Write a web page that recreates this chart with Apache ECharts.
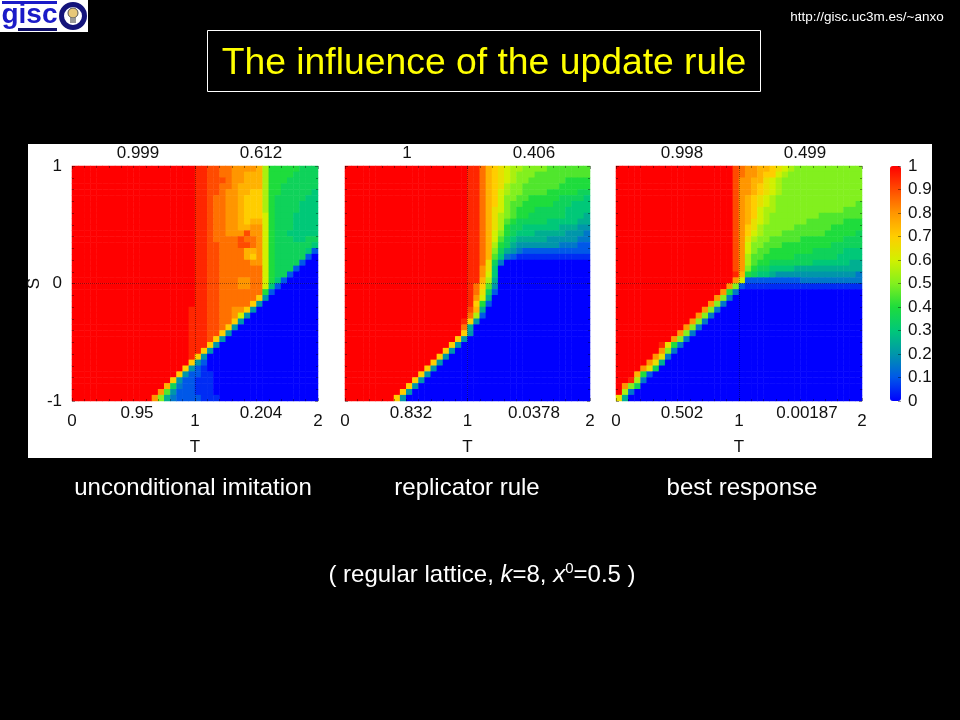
<!DOCTYPE html>
<html><head><meta charset="utf-8">
<style>html,body{margin:0;padding:0;background:#000}#c{width:960px;height:720px}</style>
<script src="https://cdn.jsdelivr.net/npm/echarts@6/dist/echarts.min.js"></script>
</head><body><div id="c"></div>
<script>
// Each row is one line of cells, top (S=1) to bottom (S=-1), left (T=0) to right (T=2).
// Letter a..u = fraction of cooperators 0.00..1.00 in steps of 0.05.
const panelA = [
"uuuuuuuuuu uuuuuuuuuu ttssrrqqqq pliiiiihhh",
"uuuuuuuuuu uuuuuuuuuu ttssrrqqpp pliiiihhhh",
"uuuuuuuuuu uuuuuuuuuu ttsssrqqpp pliiihhhhh",
"uuuuuuuuuu uuuuuuuuuu ttssrrqppp pliihhhhhh",
"uuuuuuuuuu uuuuuuuuuu ttssrqqppo oliihhhhhg",
"uuuuuuuuuu uuuuuuuuuu ttsrrqqpoo olihhhhhgg",
"uuuuuuuuuu uuuuuuuuuu ttsrrqqpoo olihhhhggg",
"uuuuuuuuuu uuuuuuuuuu ttsrrqqpoo olihhhhggg",
"uuuuuuuuuu uuuuuuuuuu ttsrrqqpoo omihhhgggg",
"uuuuuuuuuu uuuuuuuuuu ttsrrqqpop pmihhhgggg",
"uuuuuuuuuu uuuuuuuuuu ttsrrqqppq qmihhhgggg",
"uuuuuuuuuu uuuuuuuuuu ttsrrqqqsq qmihhggggg",
"uuuuuuuuuu uuuuuuuuuu ttsrrrrsrr qmihhhgghh",
"uuuuuuuuuu uuuuuuuuuu ttssrrrssr qmihhhhhhg",
"uuuuuuuuuu uuuuuuuuuu ttssrrrrpp qmihhhhhgc",
"uuuuuuuuuu uuuuuuuuuu ttssrrrrpo qmihhhhhca",
"uuuuuuuuuu uuuuuuuuuu ttssrrrrrq qmihhhhcaa",
"uuuuuuuuuu uuuuuuuuuu ttssrrrrrr rmihhhcaaa",
"uuuuuuuuuu uuuuuuuuuu ttssrrrrrr rmihhcaaaa",
"uuuuuuuuuu uuuuuuuuuu ttssrrrqqr rmigcaaaaa",
"uuuuuuuuuu uuuuuuuuuu ttssrrrqqr rmgcaaaaaa",
"uuuuuuuuuu uuuuuuuuuu ttssrrrrrr ricaaaaaaa",
"uuuuuuuuuu uuuuuuuuuu ttssrrrrrr oeaaaaaaaa",
"uuuuuuuuuu uuuuuuuuuu ttssrrrrro eaaaaaaaaa",
"uuuuuuuuuu uuuuuuuuut ttssrrqqoe aaaaaaaaaa",
"uuuuuuuuuu uuuuuuuuut ttssrrqmea aaaaaaaaaa",
"uuuuuuuuuu uuuuuuuuut ttssrroeaa aaaaaaaaaa",
"uuuuuuuuuu uuuuuuuuut ttssroeaaa aaaaaaaaaa",
"uuuuuuuuuu uuuuuuuuut ttssoeaaaa aaaaaaaaaa",
"uuuuuuuuuu uuuuuuuuut ttsoeaaaaa aaaaaaaaaa",
"uuuuuuuuuu uuuuuuuuut ttoeaaaaaa aaaaaaaaaa",
"uuuuuuuuuu uuuuuuuuut toeaaaaaaa aaaaaaaaaa",
"uuuuuuuuuu uuuuuuuuut oeaaaaaaaa aaaaaaaaaa",
"uuuuuuuuuu uuuuuuuuuo ecaaaaaaaa aaaaaaaaaa",
"uuuuuuuuuu uuuuuuuuoe cbaaaaaaaa aaaaaaaaaa",
"uuuuuuuuuu uuuuuuuoec cbbaaaaaaa aaaaaaaaaa",
"uuuuuuuuuu uuuuuuoecc bbbaaaaaaa aaaaaaaaaa",
"uuuuuuuuuu uuuuuphdcc bbbaaaaaaa aaaaaaaaaa",
"uuuuuuuuuu uuuuqjeccc bbbaaaaaaa aaaaaaaaaa",
"uuuuuuuuuu uuuqkfdccc cbbbaaaaaa aaaaaaaaaa"
];
const panelB = [
"uuuuuuuuuu uuuuuuuuuu ttrponmllk kkkjjjjjjj",
"uuuuuuuuuu uuuuuuuuuu ttrponmlkk kjjjjjjjjj",
"uuuuuuuuuu uuuuuuuuuu ttrponmlkk jjjjjjiiii",
"uuuuuuuuuu uuuuuuuuuu ttrponlkkj jjjjjiiiii",
"uuuuuuuuuu uuuuuuuuuu ttrpomlkkj jjjiiiiihh",
"uuuuuuuuuu uuuuuuuuuu ttrpomkkjj iiiiihhhhg",
"uuuuuuuuuu uuuuuuuuuu ttrpomkjji iiiihhhggg",
"uuuuuuuuuu uuuuuuuuuu ttrpnmkjii ihhhhhgggg",
"uuuuuuuuuu uuuuuuuuuu ttrpnlkjii hhhhhhgggf",
"uuuuuuuuuu uuuuuuuuuu ttrpnljihh hhhgggggff",
"uuuuuuuuuu uuuuuuuuuu ttrpnlihhg gggggfffee",
"uuuuuuuuuu uuuuuuuuuu ttrpmkihgg gfffffeeed",
"uuuuuuuuuu uuuuuuuuuu ttrpmjhgff fffeeeeedd",
"uuuuuuuuuu uuuuuuuuuu ttrplihfee eeeeedddcc",
"uuuuuuuuuu uuuuuuuuuu ttrpkhfedc cccccccccc",
"uuuuuuuuuu uuuuuuuuuu ttrpjgdcbb bbbbbbbbbb",
"uuuuuuuuuu uuuuuuuuuu ttrnhdaaaa aaaaaaaaaa",
"uuuuuuuuuu uuuuuuuuuu ttqngaaaaa aaaaaaaaaa",
"uuuuuuuuuu uuuuuuuuuu ttqmgaaaaa aaaaaaaaaa",
"uuuuuuuuuu uuuuuuuuuu ttplfaaaaa aaaaaaaaaa",
"uuuuuuuuuu uuuuuuuuuu trojeaaaaa aaaaaaaaaa",
"uuuuuuuuuu uuuuuuuuuu trnhcaaaaa aaaaaaaaaa",
"uuuuuuuuuu uuuuuuuuuu tqmfaaaaaa aaaaaaaaaa",
"uuuuuuuuuu uuuuuuuuuu toicaaaaaa aaaaaaaaaa",
"uuuuuuuuuu uuuuuuuuuu spfaaaaaaa aaaaaaaaaa",
"uuuuuuuuuu uuuuuuuuuu rlcaaaaaaa aaaaaaaaaa",
"uuuuuuuuuu uuuuuuuuut oeaaaaaaaa aaaaaaaaaa",
"uuuuuuuuuu uuuuuuuuur faaaaaaaaa aaaaaaaaaa",
"uuuuuuuuuu uuuuuuuuuo eaaaaaaaaa aaaaaaaaaa",
"uuuuuuuuuu uuuuuuuuoe aaaaaaaaaa aaaaaaaaaa",
"uuuuuuuuuu uuuuuuuoea aaaaaaaaaa aaaaaaaaaa",
"uuuuuuuuuu uuuuuuoeaa aaaaaaaaaa aaaaaaaaaa",
"uuuuuuuuuu uuuuuoeaaa aaaaaaaaaa aaaaaaaaaa",
"uuuuuuuuuu uuuuoeaaaa aaaaaaaaaa aaaaaaaaaa",
"uuuuuuuuuu uuuoeaaaaa aaaaaaaaaa aaaaaaaaaa",
"uuuuuuuuuu uuoeaaaaaa aaaaaaaaaa aaaaaaaaaa",
"uuuuuuuuuu uoeaaaaaaa aaaaaaaaaa aaaaaaaaaa",
"uuuuuuuuuu oeaaaaaaaa aaaaaaaaaa aaaaaaaaaa",
"uuuuuuuuuo eaaaaaaaaa aaaaaaaaaa aaaaaaaaaa",
"uuuuuuuuoe aaaaaaaaaa aaaaaaaaaa aaaaaaaaaa"
];
const panelC = [
"uuuuuuuuuu uuuuuuuuus rqqpponmlk kkkkkkkkkk",
"uuuuuuuuuu uuuuuuuuus rqqpoomlkk kkkkkkkkkk",
"uuuuuuuuuu uuuuuuuuus qqppnmlkkk kkkkkkkkkk",
"uuuuuuuuuu uuuuuuuuus qqponmlkkk kkkkkkkkkk",
"uuuuuuuuuu uuuuuuuuus qqponmlkkk kkkkkkkkkk",
"uuuuuuuuuu uuuuuuuuus qponmlkkkk kkkkkkkkkk",
"uuuuuuuuuu uuuuuuuuus qponmlkkkk kkkkkkkkkj",
"uuuuuuuuuu uuuuuuuuus qpomllkkkk kkkkkkkjjj",
"uuuuuuuuuu uuuuuuuuus qpomlkkkkk kkkjjjjjjj",
"uuuuuuuuuu uuuuuuuuus qpnmlkkkkk kjjjjjjiii",
"uuuuuuuuuu uuuuuuuuus qonlkkkkkj jjjjjiiiii",
"uuuuuuuuuu uuuuuuuuus qomlkkkjjj jjjjiiiiih",
"uuuuuuuuuu uuuuuuuuus qnlkkjjjjj iiiiiiihhh",
"uuuuuuuuuu uuuuuuuuus qmkkjjjiii iiiiihhhhh",
"uuuuuuuuuu uuuuuuuuus qmkjjiiiii iihhhhhggg",
"uuuuuuuuuu uuuuuuuuus qljjiiiiih hhhhhhgggg",
"uuuuuuuuuu uuuuuuuuus qljiihhhhh hhggggggff",
"uuuuuuuuuu uuuuuuuuus qkihhggggf ffffffffff",
"uuuuuuuuuu uuuuuuuuut pihggfeeee eeeeeeeeed",
"uuuuuuuuuu uuuuuuuuuq mccccccccc dddddddddd",
"uuuuuuuuuu uuuuuuuuqk cbbbbbbbbb bbbbbbbbbb",
"uuuuuuuuuu uuuuuuuqid aaaaaaaaaa aaaaaaaaaa",
"uuuuuuuuuu uuuuuuqkda aaaaaaaaaa aaaaaaaaaa",
"uuuuuuuuuu uuuuuqkdaa aaaaaaaaaa aaaaaaaaaa",
"uuuuuuuuuu uuuuqkdaaa aaaaaaaaaa aaaaaaaaaa",
"uuuuuuuuuu uuuqkdaaaa aaaaaaaaaa aaaaaaaaaa",
"uuuuuuuuuu uuqkdaaaaa aaaaaaaaaa aaaaaaaaaa",
"uuuuuuuuuu uqkdaaaaaa aaaaaaaaaa aaaaaaaaaa",
"uuuuuuuuuu qkdaaaaaaa aaaaaaaaaa aaaaaaaaaa",
"uuuuuuuuuq kdaaaaaaaa aaaaaaaaaa aaaaaaaaaa",
"uuuuuuutni daaaaaaaaa aaaaaaaaaa aaaaaaaaaa",
"uuuuuuuqkd aaaaaaaaaa aaaaaaaaaa aaaaaaaaaa",
"uuuuuuqnda aaaaaaaaaa aaaaaaaaaa aaaaaaaaaa",
"uuuuuqnfaa aaaaaaaaaa aaaaaaaaaa aaaaaaaaaa",
"uuuuqnhaaa aaaaaaaaaa aaaaaaaaaa aaaaaaaaaa",
"uuupicaaaa aaaaaaaaaa aaaaaaaaaa aaaaaaaaaa",
"uutldaaaaa aaaaaaaaaa aaaaaaaaaa aaaaaaaaaa",
"uqkhaaaaaa aaaaaaaaaa aaaaaaaaaa aaaaaaaaaa",
"uldaaaaaaa aaaaaaaaaa aaaaaaaaaa aaaaaaaaaa",
"nfaaaaaaaa aaaaaaaaaa aaaaaaaaaa aaaaaaaaaa"
];
const panelNames = ["unconditional imitation", "replicator rule", "best response"];
const topStats = [["0.999", "0.612"], ["1", "0.406"], ["0.998", "0.499"]];
const bottomStats = [["0.95", "0.204"], ["0.832", "0.0378"], ["0.502", "0.00187"]];
const colorStops = ["#0000ff","#0058e8","#0096aa","#00c878","#1edc3c","#82f01e","#d2f000","#ffcd00","#ff9600","#ff4b00","#ff0000"];
const titleText = "The influence of the update rule";
const urlText = "http://gisc.uc3m.es/~anxo";

const FONT = '"Liberation Sans", Arial, sans-serif';
const INK = '#111';
const layout = [
  {rows: panelA, left: 72,  width: 246, yLabels: true},
  {rows: panelB, left: 345, width: 245, yLabels: false},
  {rows: panelC, left: 616, width: 246, yLabels: false}
];
const TOP = 166, H = 235;
const cats = Array.from({length: 40}, (_, i) => String(i));
const level = ch => (ch.charCodeAt(0) - 97) / 20;
function cells(rows) {
  const out = [];
  rows.forEach((row, r) => row.replace(/ /g, '').split('').forEach((ch, c) => out.push([c, r, level(ch)])));
  return out;
}
const faint = 'rgba(0,0,0,0.4)';
const tickStyle = {show: true, inside: true, length: 3, lineStyle: {color: faint, width: 1}};
const minor = {show: true, splitNumber: 10, length: 2, lineStyle: {color: faint, width: 1}};
const dotted = {show: true, showMinLine: false, showMaxLine: false, lineStyle: {color: 'rgba(0,0,0,0.4)', type: 'dotted', width: 1}};

const grid = [], xAxis = [], yAxis = [], series = [];
layout.forEach((p, i) => {
  grid.push({left: p.left, top: TOP, width: p.width, height: H, containLabel: false});
  xAxis.push({gridIndex: i, type: 'category', data: cats, show: false});
  yAxis.push({gridIndex: i, type: 'category', data: cats, inverse: true, show: false});
  xAxis.push({gridIndex: i, type: 'value', position: 'bottom', min: 0, max: 2, interval: 1, z: 3,
    axisLine: {show: false, onZero: false}, axisTick: tickStyle, minorTick: minor, splitLine: dotted,
    axisLabel: {fontFamily: FONT, fontSize: 17, color: INK, margin: 12},
    name: 'T', nameLocation: 'middle', nameGap: 38, nameTextStyle: {fontFamily: FONT, fontSize: 17, color: INK}});
  xAxis.push({gridIndex: i, type: 'value', position: 'top', min: 0, max: 2, interval: 1, z: 3,
    axisLine: {show: false, onZero: false}, axisTick: tickStyle, minorTick: minor, splitLine: {show: false}, axisLabel: {show: false}});
  yAxis.push({gridIndex: i, type: 'value', position: 'left', min: -1, max: 1, interval: 1, z: 3,
    axisLine: {show: false, onZero: false}, axisTick: tickStyle, minorTick: minor, splitLine: dotted,
    axisLabel: {show: p.yLabels, fontFamily: FONT, fontSize: 17, color: INK, margin: 10},
    name: p.yLabels ? 'S' : '', nameLocation: 'middle', nameGap: 26, nameRotate: 90,
    nameTextStyle: {fontFamily: FONT, fontSize: 17, color: INK}});
  yAxis.push({gridIndex: i, type: 'value', position: 'right', min: -1, max: 1, interval: 1, z: 3,
    axisLine: {show: false, onZero: false}, axisTick: tickStyle, minorTick: minor, splitLine: {show: false}, axisLabel: {show: false}});
  series.push({type: 'heatmap', xAxisIndex: 3 * i, yAxisIndex: 3 * i, data: cells(p.rows), progressive: 0, animation: false, emphasis: {disabled: true}});
});
// colour-bar scale
grid.push({left: 890, top: TOP, width: 11, height: H});
xAxis.push({gridIndex: 3, type: 'value', show: false, min: 0, max: 1});
yAxis.push({gridIndex: 3, type: 'value', position: 'right', min: 0, max: 1, interval: 0.1, z: 6,
  axisLine: {show: false, onZero: false}, splitLine: {show: false},
  axisTick: {show: true, inside: true, length: 3, lineStyle: {color: faint, width: 1}},
  axisLabel: {fontFamily: FONT, fontSize: 17, color: INK, margin: 7}});

function label(text, x, y, opt) {
  return {type: 'text', z: 10, x: x, y: y, style: Object.assign({text: text, fontFamily: FONT, fontSize: 17, fill: INK, align: 'center', verticalAlign: 'middle'}, opt || {})};
}
const statCentres = [[138, 261, 137, 261], [407, 534, 411, 534], [682, 805, 682, 807]];
const graphics = [
  {type: 'rect', z: 0, shape: {x: 28, y: 144, width: 904, height: 314}, style: {fill: '#fff'}},
  {type: 'rect', z: 0, shape: {x: 207.5, y: 30.5, width: 553, height: 61}, style: {fill: 'none', stroke: '#fff', lineWidth: 1}},
  label(titleText, 484, 64, {fontSize: 37.3, fill: '#ffff00'}),
  label(urlText, 867, 17, {fontSize: 13.5, fill: '#fff'}),
  // logo
  {type: 'rect', z: 1, shape: {x: 0, y: 0, width: 88, height: 32}, style: {fill: '#fff'}},
  {type: 'rect', z: 2, shape: {x: 2, y: 1, width: 55, height: 3}, style: {fill: '#1a1ac8'}},
  {type: 'rect', z: 2, shape: {x: 18, y: 28, width: 39, height: 3}, style: {fill: '#10106e'}},
  label('gisc', 29.5, 15, {fontSize: 28, fontWeight: 'bold', fill: '#1a1ac8'}),
  {type: 'circle', z: 9, shape: {cx: 73, cy: 16, r: 11.5}, style: {fill: '#fff', stroke: '#14147a', lineWidth: 5}},
  {type: 'circle', z: 10, shape: {cx: 73, cy: 13, r: 5}, style: {fill: '#e8c878', stroke: '#555', lineWidth: 1}},
  {type: 'rect', z: 10, shape: {x: 70, y: 18, width: 6, height: 5}, style: {fill: '#999'}}
];
layout.forEach((p, i) => {
  const cx = statCentres[i];
  graphics.push(label(topStats[i][0], cx[0], 153.5), label(topStats[i][1], cx[1], 153.5));
  graphics.push(label(bottomStats[i][0], cx[2], 413), label(bottomStats[i][1], cx[3], 413));
  graphics.push(label(panelNames[i], [193, 467, 742][i], 488, {fontSize: 24, fill: '#fff'}));
});
graphics.push({type: 'text', z: 10, x: 482, y: 575, style: {
  text: '( regular lattice, {i|k}=8, {i|x}{s|0}=0.5 )', fontFamily: FONT, fontSize: 24, fill: '#fff', align: 'center', verticalAlign: 'middle',
  rich: {i: {fontStyle: 'italic', fontFamily: FONT, fontSize: 24, fill: '#fff', lineHeight: 28},
         s: {fontSize: 15, fontFamily: FONT, fill: '#fff', verticalAlign: 'top', lineHeight: 28}}
}});

const chart = echarts.init(document.getElementById('c'), null, {renderer: 'canvas', width: 960, height: 720});
chart.setOption({
  backgroundColor: '#000',
  animation: false,
  grid, xAxis, yAxis, series,
  visualMap: {type: 'continuous', min: 0, max: 1, calculable: false, seriesIndex: [0, 1, 2], dimension: 2,
    left: 890, top: TOP, itemWidth: 11, itemHeight: H, padding: 0, showLabel: false, text: null, z: 4,
    inRange: {color: colorStops}},
  graphic: {elements: graphics}
});
</script></body></html>
